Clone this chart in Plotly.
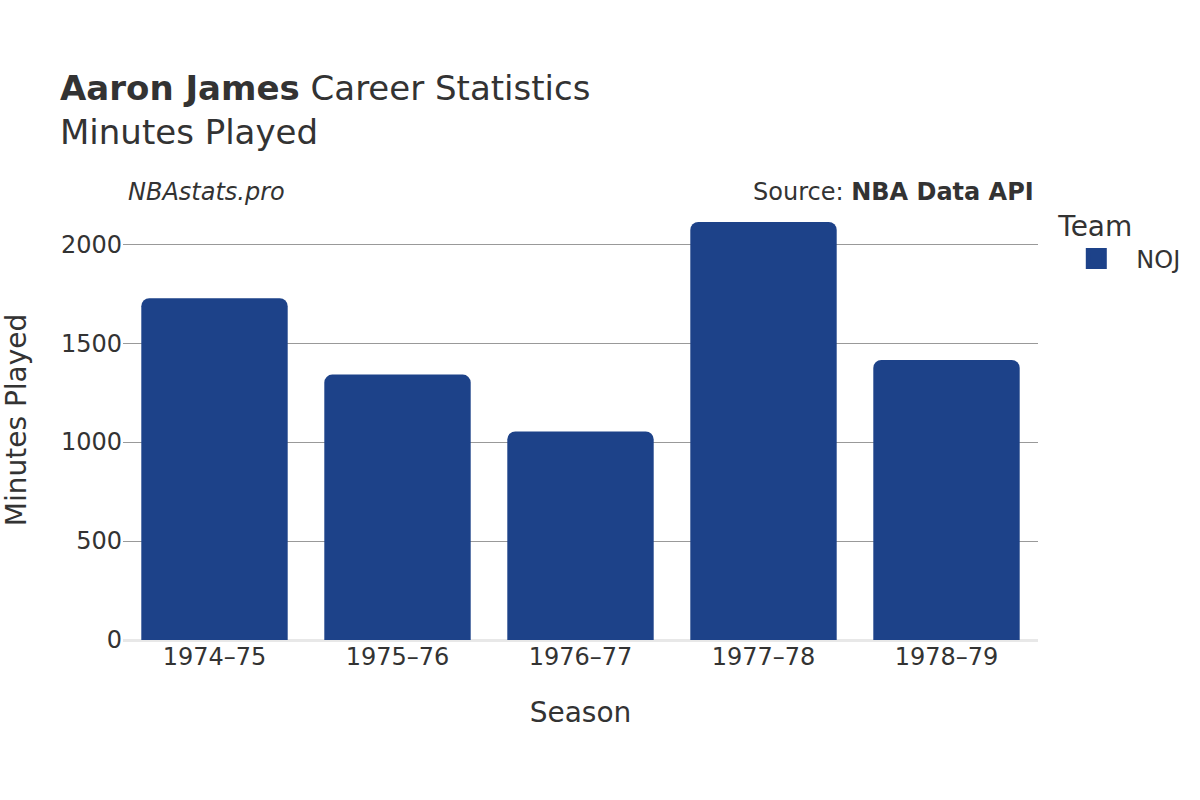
import plotly.graph_objects as go

seasons = ["1974–75", "1975–76", "1976–77", "1977–78", "1978–79"]
minutes = [1727, 1341, 1054, 2112, 1415]
team = "NOJ"
bar_color = "#1d4289"

fig = go.Figure()
fig.add_trace(go.Bar(
    x=seasons, y=minutes, name=team, showlegend=False, legendgroup=team,
    marker=dict(color=bar_color, line=dict(width=0)),
))
# legend-only entry with a larger rounded swatch
fig.add_trace(go.Scatter(
    x=[None], y=[None], mode="markers", name=team, legendgroup=team,
    showlegend=True, hoverinfo="skip",
    marker=dict(symbol="square", size=18, color=bar_color,
                line=dict(color=bar_color, width=5)),
))

font_family = "DejaVu Sans, Verdana, sans-serif"
fig.update_layout(
    width=1200, height=800,
    font=dict(family=font_family, color="#333333", size=22),
    paper_bgcolor="white", plot_bgcolor="white",
    barcornerradius=8,
    bargap=0.2,
    showlegend=True,
    margin=dict(l=123, r=162, t=200, b=160),
    title=dict(
        text="<b>Aaron James</b> Career Statistics<br>Minutes Played",
        x=0.05, xanchor="left", y=0.875, yanchor="top",
        font=dict(size=34, color="#333333"),
    ),
    xaxis=dict(
        title=dict(text="Season", font=dict(size=28), standoff=32),
        tickfont=dict(size=24),
        showgrid=False,
        ticks="", ticklen=0,
    ),
    yaxis=dict(
        title=dict(text="Minutes Played", font=dict(size=28), standoff=28),
        tickfont=dict(size=24),
        gridcolor="#999999", gridwidth=1,
        zeroline=True, zerolinecolor="#e8e8e8", zerolinewidth=3,
        tickvals=[0, 500, 1000, 1500, 2000],
        range=[0, 2223],
    ),
    legend=dict(
        title=dict(text="Team", font=dict(size=28)),
        font=dict(size=24),
        x=1.02, xanchor="left", y=1.0, yanchor="top",
        itemsizing="trace", itemwidth=70,
    ),
    annotations=[
        dict(text="<i>NBAstats.pro</i>", x=0.0, xref="paper", xanchor="left",
             y=1.018, yref="paper", yanchor="middle", showarrow=False,
             font=dict(size=24, color="#333333"), xshift=3),
        dict(text="Source: <b>NBA Data API</b>", x=1.0, xref="paper", xanchor="right",
             y=1.018, yref="paper", yanchor="middle", showarrow=False,
             font=dict(size=24, color="#333333"), xshift=-2),
    ],
)

fig.write_html("out.html")
